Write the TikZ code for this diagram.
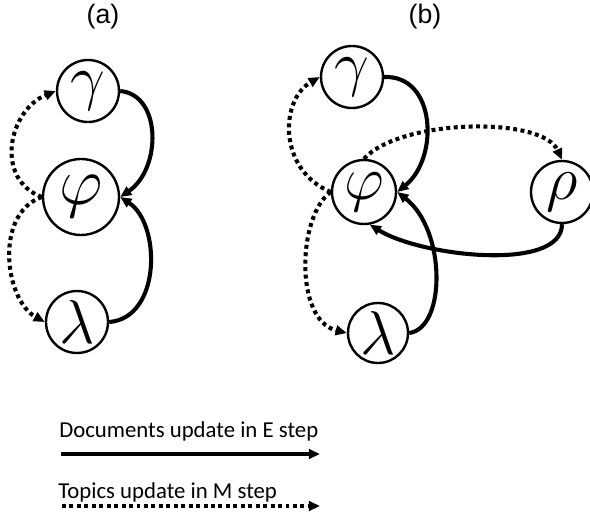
\documentclass[tikz,border=0pt]{standalone}
\usepackage{fix-cm}
\usepackage{fontspec}
\newfontfamily\legendfont{Carlito}
\newfontfamily\panelfont{Liberation Sans}
\usetikzlibrary{arrows.meta, positioning}

\begin{document}
\begin{tikzpicture}[
    var/.style={circle, draw=black, line width=1.7pt, inner sep=0pt, minimum size=1.55cm, font=\fontsize{44}{44}\selectfont},
    update/.style={-{Triangle[length=2.8mm, width=2.4mm]}, line width=2.9pt, draw=black},
    topic/.style={update, dash pattern=on 2.8pt off 2.5pt},
    panel/.style={font=\panelfont\fontsize{19}{19}\selectfont},
    legend/.style={font=\legendfont\fontsize{16.2}{16.2}\selectfont, anchor=west, inner sep=0pt}
]
    \useasboundingbox (0,0) rectangle (14.75,12.975);

    % panel (a)
    \node[panel] (labA) at (2.575,12.55) {(a)};
    \node[var] (gA) at (2.2,10.7) {$\gamma$};
    \node[var, minimum size=1.9cm, font=\fontsize{48}{48}\selectfont] (pA) at (2.025,8.05) {$\varphi$};
    \node[var] (lA) at (1.925,4.925) {$\lambda$};

    \draw[update] (gA.east) .. controls +(1.05,-0.1) and +(1.025,0.7) .. (pA.east);
    \draw[update] (lA.east) .. controls +(1.3,0.1) and +(1.025,-0.675) .. (pA.east);
    \draw[topic] (pA.west) .. controls +(-1.2,0.45) and +(-1.175,-0.475) .. (gA.west);
    \draw[topic] (pA.west) .. controls +(-1.2,-0.425) and +(-1.0,0.55) .. (lA.west);

    % panel (b)
    \node[panel] (labB) at (10.625,12.55) {(b)};
    \node[var] (gB) at (8.8,11.05) {$\gamma$};
    \node[var, minimum size=1.6cm] (pB) at (9.1,8.175) {$\varphi$};
    \node[var] (rB) at (14.05,8.175) {$\rho$};
    \node[var, minimum size=1.5cm] (lB) at (9.45,4.65) {$\lambda$};

    \draw[update] (gB.east) .. controls +(1.3,0.05) and +(1.05,0.85) .. (pB.east);
    \draw[update] (lB.east) .. controls +(0.925,0.125) and +(1.225,-0.95) .. (pB.east);
    \draw[update] (rB.south) .. controls +(0,-1.2) and +(1.3,-0.8) .. (pB.-80);
    \draw[topic] (pB.north) .. controls +(0.9,1.0) and +(-0.5,1.1) .. (rB.north);
    \draw[topic] (pB.west) .. controls +(-1.325,0.55) and +(-1.0,-0.575) .. (gB.west);
    \draw[topic] (pB.west) .. controls +(-0.825,-0.575) and +(-1.325,0.325) .. (lB.west);

    % legend
    \node[legend] (eText) at (1.475,2.2) {Documents update in E step};
    \coordinate (eFrom) at (1.525,1.625);
    \coordinate (eTo) at (8.0,1.625);
    \draw[update] (eFrom) -- (eTo);

    \node[legend] (mText) at (1.45,0.675) {Topics update in M step};
    \coordinate (mFrom) at (1.55,0.325);
    \coordinate (mTo) at (8.0,0.325);
    \draw[topic] (mFrom) -- (mTo);
\end{tikzpicture}
\end{document}
